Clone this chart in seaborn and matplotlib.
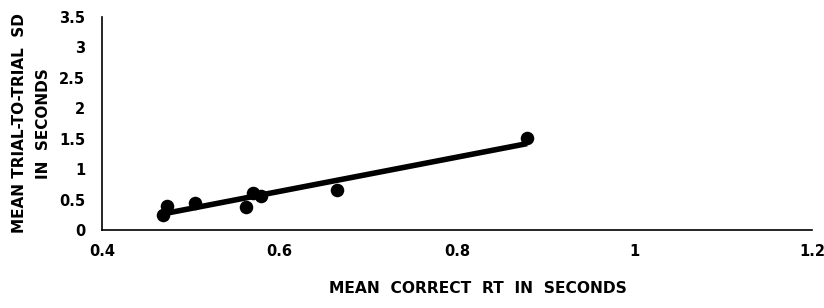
import numpy as np
import pandas as pd
import matplotlib
matplotlib.use("Agg")
import matplotlib.pyplot as plt
import seaborn as sns

# values
mean_rt = [0.469, 0.473, 0.505, 0.562, 0.570, 0.579, 0.665, 0.879]
mean_sd = [0.25, 0.39, 0.44, 0.38, 0.61, 0.56, 0.66, 1.51]
x_ticks = [0.4, 0.6, 0.8, 1.0, 1.2]
x_tick_labels = ["0.4", "0.6", "0.8", "1", "1.2"]
y_ticks = [0, 0.5, 1, 1.5, 2, 2.5, 3, 3.5]
y_tick_labels = ["0", "0.5", "1", "1.5", "2", "2.5", "3", "3.5"]

df = pd.DataFrame({"rt": mean_rt, "sd": mean_sd})

sns.set_style("white")
plt.rcParams["font.family"] = ["DejaVu Sans"]
plt.rcParams["text.color"] = "black"
plt.rcParams["axes.labelcolor"] = "black"
plt.rcParams["xtick.color"] = "black"
plt.rcParams["ytick.color"] = "black"

fig = plt.figure(figsize=(8.24, 3.08), dpi=100)
ax = fig.add_axes([102 / 824, 1 - 230 / 308, (812 - 102) / 824, (230 - 17) / 308])

sns.regplot(data=df, x="rt", y="sd", ci=None, ax=ax,
            scatter_kws=dict(s=95, color="black", alpha=1, linewidths=0),
            line_kws=dict(color="black", lw=4, solid_capstyle="butt"))

ax.set_xlim(0.4, 1.2)
ax.set_ylim(0, 3.5)
ax.set_xticks(x_ticks)
ax.set_xticklabels(x_tick_labels, fontsize=10.5, fontweight="bold")
ax.set_yticks(y_ticks)
ax.set_yticklabels(y_tick_labels, fontsize=10.5, fontweight="bold")
ax.tick_params(axis="x", direction="out", length=4, width=1, color="black", pad=6)
ax.tick_params(axis="y", direction="out", length=4, width=1, color="black", pad=8)
ax.spines["top"].set_visible(False)
ax.spines["right"].set_visible(False)
for s in ("left", "bottom"):
    ax.spines[s].set_color("black")
    ax.spines[s].set_linewidth(1.2)

ax.set_xlabel("MEAN  CORRECT  RT  IN  SECONDS", fontsize=11.2, fontweight="bold")
ax.xaxis.set_label_coords(0.53, -0.24)
ax.set_ylabel("MEAN TRIAL-TO-TRIAL  SD\nIN  SECONDS", fontsize=11, fontweight="bold",
              linespacing=1.75)
ax.yaxis.set_label_coords(-0.072, 0.5)

fig.savefig("out.png", dpi=100)
